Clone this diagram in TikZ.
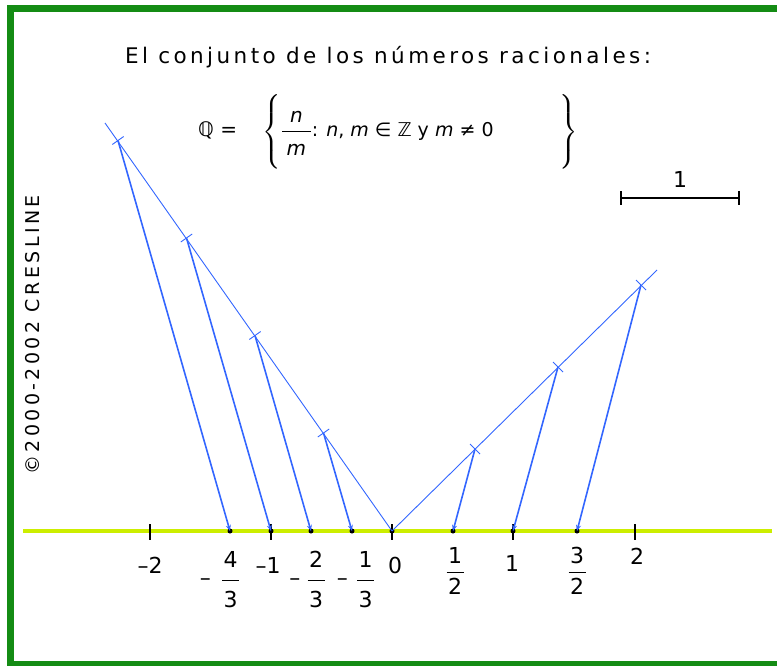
\documentclass[tikz,border=0pt]{standalone}
\usepackage{amsmath}
\usepackage{fontspec}
\setmainfont{DejaVu Sans}
\usetikzlibrary{arrows.meta}
\definecolor{framegreen}{RGB}{20,140,20}
\definecolor{axisyellow}{RGB}{204,238,0}
\definecolor{lineblue}{RGB}{51,102,255}
\newcommand{\frc}[2]{\genfrac{}{}{1.6pt}{0}{\text{\kern1.5pt#1\kern1.5pt}}{\text{\kern1.5pt#2\kern1.5pt}}}
\newcommand{\nfrc}[2]{\genfrac{}{}{1.6pt}{0}{\text{\kern1.5pt#1\rule[-6.8pt]{0pt}{6.8pt}\kern1.5pt}}{\text{\kern1.5pt#2\rule{0pt}{22pt}\kern1.5pt}}}

\begin{document}
\begin{tikzpicture}[
    x=1pt, y=-1pt,
    font=\fontsize{20}{24}\selectfont,
    guide/.style={lineblue, line width=0.9pt},
    proj/.style={lineblue, line width=1.6pt, -{Stealth[length=6pt, width=5pt]}},
    axtick/.style={black, line width=1.4pt},
    lbl/.style={font=\fontsize{22}{26}\selectfont, inner sep=0pt, anchor=base},
    scalebar/.style={black, line width=1.6pt, {Bar[width=14pt]}-{Bar[width=14pt]}}
  ]
    \useasboundingbox (0,0) rectangle (777,666);
    \draw[framegreen, line width=6.5pt] (10.5,8.5) rectangle (800,664.5);

    \node[font=\fontsize{21.5}{24}\selectfont\addfontfeatures{LetterSpace=16}] (title) at (388,57)
      {El conjunto de los números racionales:};
    \node[inner sep=0pt, anchor=base west] (set) at (198,137)
      {\(\text{ℚ =}\hspace{22pt}\left\{\vcenter to 70pt{}\genfrac{}{}{1.2pt}{0}{\text{\kern4.5pt\textit{n}\kern4.5pt}}{\text{\kern4.5pt\textit{m}\rule{0pt}{19.5pt}\kern4.5pt}}\text{\fontsize{19}{22}\selectfont : \textit{n}, \textit{m} ∈ ℤ y \textit{m} ≠ 0}\hspace{66pt}\right\}\)};
    \node[rotate=90, font=\fontsize{19}{22}\selectfont\addfontfeatures{LetterSpace=18}] (copy) at (33,335)
      {©2000-2002 CRESLINE};

    \coordinate (sl) at (620,198);
    \coordinate (sr) at (740,198);
    \draw[scalebar] (sl) -- node[above=10pt, inner sep=0pt, font=\fontsize{22}{26}\selectfont] (unit) {1} (sr);

    \coordinate (axl) at (23,531);
    \coordinate (axr) at (772,531);
    \draw[axisyellow, line width=4pt] (axl) -- (axr);

    \coordinate (m2)  at (150,531);
    \coordinate (m43) at (230,531);
    \coordinate (m1)  at (271,531);
    \coordinate (m23) at (311,531);
    \coordinate (m13) at (352,531);
    \coordinate (o)   at (392,531);
    \coordinate (p12) at (453,531);
    \coordinate (p1)  at (513,531);
    \coordinate (p32) at (577,531);
    \coordinate (p2)  at (635,531);

    \foreach \p in {m2,m1,o,p1,p2}
      \draw[axtick] ([yshift=7pt]\p) -- ([yshift=-9pt]\p);
    \foreach \p in {m43,m1,m23,m13,o,p12,p1,p32}
      \fill (\p) circle (2.5);

    \coordinate (ltop) at (105,123);
    \coordinate (l1) at (323.5,433);
    \coordinate (l2) at (255,335.5);
    \coordinate (l3) at (186.5,238);
    \coordinate (l4) at (118,140.5);
    \coordinate (rtop) at (657,270);
    \coordinate (r1) at (475,449);
    \coordinate (r2) at (558,367);
    \coordinate (r3) at (641,285);

    \draw[guide] (o) -- (ltop);
    \draw[guide] (o) -- (rtop);
    \foreach \p in {l1,l2,l3,l4}
      \draw[guide] (\p) ++(-5.7,4) -- ++(11.4,-8);
    \foreach \p in {r1,r2,r3}
      \draw[guide] (\p) ++(-5,-5) -- ++(10,10);

    \draw[proj] (l1) -- (m13);
    \draw[proj] (l2) -- (m23);
    \draw[proj] (l3) -- (m1);
    \draw[proj] (l4) -- (m43);
    \draw[proj] (r1) -- (p12);
    \draw[proj] (r2) -- (p1);
    \draw[proj] (r3) -- (p32);

    \node[lbl] (tm2)  at (150,573) {\textendash2};
    \node[lbl] (tm43) at (220,585.5) {\textendash\hspace{10pt}\(\nfrc{4}{3}\)};
    \node[lbl] (tm1)  at (268,573) {\textendash1};
    \node[lbl] (tm23) at (307.5,585.5) {\textendash\hspace{6pt}\(\nfrc{2}{3}\)};
    \node[lbl] (tm13) at (356,585.5) {\textendash\hspace{8pt}\(\nfrc{1}{3}\)};
    \node[lbl] (to)   at (395,573) {0};
    \node[lbl] (tp12) at (455,577.5) {\(\frc{1}{2}\)};
    \node[lbl] (tp1)  at (512,571) {1};
    \node[lbl] (tp32) at (577,577.5) {\(\frc{3}{2}\)};
    \node[lbl] (tp2)  at (637,564) {2};
  \end{tikzpicture}
\end{document}
